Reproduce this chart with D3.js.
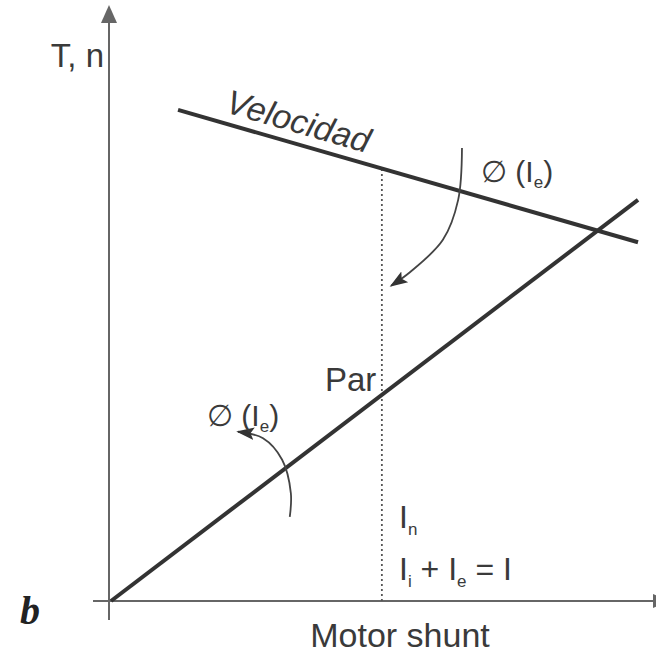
<!DOCTYPE html>
<html>
<head>
<meta charset="utf-8">
<script src="https://cdn.jsdelivr.net/npm/d3@7"></script>
<style>
  body { margin: 0; background: #fff; }
  svg { display: block; }
  text { font-family: "Liberation Sans", Arial, sans-serif; fill: #3a3a3a; }
</style>
</head>
<body>
<div id="chart"></div>
<script>
const width = 656, height = 654;

// data units: x = field current (0..100), y = torque / speed (0..100)
const parLine = [[0, 0], [96.7, 67.3]];
const velLine = [[12.3, 82.4], [96.7, 60.2]];
const nominalX = 49.7;
const arrowRight = [[64.4, 76.0], [63.7, 67.3], [60.9, 60.6], [54.9, 55.2], [51.4, 52.9]];
const arrowLeft = [[32.8, 14.1], [33.0, 18.1], [31.4, 23.7], [27.9, 27.3], [23.3, 28.4]];

const x = d3.scaleLinear().domain([0, 100]).range([111, 656]);
const y = d3.scaleLinear().domain([0, 100]).range([601, 5]);

const svg = d3.select("#chart").append("svg")
  .attr("width", width)
  .attr("height", height);

const ink = "#333";

svg.append("defs").append("marker")
  .attr("id", "tip")
  .attr("viewBox", "0 0 10 10")
  .attr("refX", 9).attr("refY", 5)
  .attr("markerWidth", 18).attr("markerHeight", 18)
  .attr("markerUnits", "userSpaceOnUse")
  .attr("orient", "auto")
  .append("path")
  .attr("d", "M0,1.5 L10,5 L0,8.5 L2,5 Z")
  .attr("fill", ink);

// axes
const axisColor = "#666";
svg.append("line")
  .attr("x1", x(0) - 2).attr("x2", x(0) - 2)
  .attr("y1", y(-3.2)).attr("y2", y(97))
  .attr("stroke", axisColor).attr("stroke-width", 2);
svg.append("path")
  .attr("d", `M${x(0) - 2},${y(100)} L${x(0) - 10},${y(97)} L${x(0) + 6},${y(97)} Z`)
  .attr("fill", axisColor);

svg.append("line")
  .attr("x1", x(-3.3)).attr("x2", width)
  .attr("y1", y(0)).attr("y2", y(0))
  .attr("stroke", axisColor).attr("stroke-width", 2.2);
svg.append("path")
  .attr("d", `M${width + 14},${y(0)} L${width - 3},${y(0) - 7} L${width - 3},${y(0) + 7} Z`)
  .attr("fill", axisColor);

// nominal current guide
svg.append("line")
  .attr("x1", x(nominalX)).attr("x2", x(nominalX))
  .attr("y1", y(0))
  .attr("y2", y(velLine[0][1] + (velLine[1][1] - velLine[0][1]) * (nominalX - velLine[0][0]) / (velLine[1][0] - velLine[0][0])))
  .attr("stroke", "#555").attr("stroke-width", 1.8)
  .attr("stroke-dasharray", "2,3");

const line = d3.line().x(d => x(d[0])).y(d => y(d[1]));

svg.append("path").attr("d", line(parLine))
  .attr("fill", "none").attr("stroke", ink).attr("stroke-width", 4);
svg.append("path").attr("d", line(velLine))
  .attr("fill", "none").attr("stroke", ink).attr("stroke-width", 4);

const curve = d3.line().x(d => x(d[0])).y(d => y(d[1])).curve(d3.curveCatmullRom);
[arrowRight, arrowLeft].forEach(pts => {
  svg.append("path").attr("d", curve(pts))
    .attr("fill", "none").attr("stroke", "#444").attr("stroke-width", 1.8)
    .attr("marker-end", "url(#tip)");
});

// labels
svg.append("text").attr("x", 104).attr("y", 67)
  .attr("text-anchor", "end").attr("font-size", 33).text("T, n");

const ang = Math.atan2(y(velLine[1][1]) - y(velLine[0][1]), x(velLine[1][0]) - x(velLine[0][0])) * 180 / Math.PI;
svg.append("text")
  .attr("transform", `translate(224,112) rotate(${ang})`)
  .attr("font-size", 34).attr("font-style", "italic").text("Velocidad");

svg.append("text").attr("x", 325).attr("y", 391).attr("font-size", 33).text("Par");

function phiLabel(px, py) {
  const t = svg.append("text").attr("x", px).attr("y", py).attr("font-size", 30);
  t.append("tspan").text("\u2205 (I");
  t.append("tspan").attr("font-size", 17).attr("dy", 6).text("e");
  t.append("tspan").attr("dy", -6).text(")");
}
phiLabel(481, 182);
phiLabel(207, 426);

const ln = svg.append("text").attr("x", 399).attr("y", 528).attr("font-size", 32);
ln.append("tspan").text("I");
ln.append("tspan").attr("font-size", 17).attr("dy", 7).text("n");

const eq = svg.append("text").attr("x", 399).attr("y", 580).attr("font-size", 32);
eq.append("tspan").text("I");
eq.append("tspan").attr("font-size", 17).attr("dy", 7).text("i");
eq.append("tspan").attr("dy", -7).text(" + I");
eq.append("tspan").attr("font-size", 17).attr("dy", 7).text("e");
eq.append("tspan").attr("dy", -7).text(" = I");

svg.append("text").attr("x", 400).attr("y", 647)
  .attr("text-anchor", "middle").attr("font-size", 34).text("Motor shunt");

svg.append("text").attr("x", 20).attr("y", 624)
  .style("font-family", "'Liberation Serif', 'DejaVu Serif', serif")
  .style("fill", "#222")
  .attr("font-weight", "bold").attr("font-style", "italic")
  .attr("font-size", 40).text("b");
</script>
</body>
</html>
